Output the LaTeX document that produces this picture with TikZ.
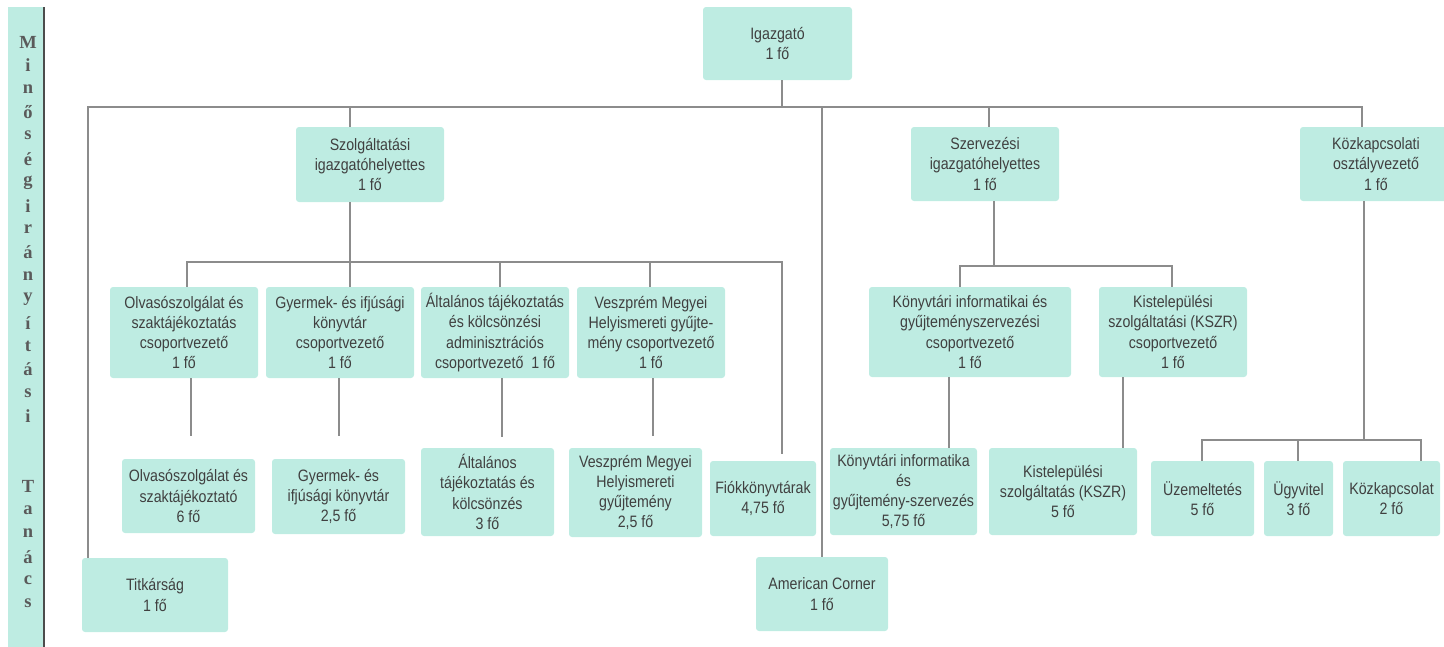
\documentclass[tikz,border=0pt]{standalone}
\usepackage{fontspec}
\newfontfamily\boxfont[FakeStretch=0.86]{Liberation Sans}
\newfontfamily\barfont{Liberation Serif}
\definecolor{boxc}{HTML}{BEECE2}
\definecolor{txtc}{HTML}{404040}
\definecolor{linec}{HTML}{8C8C8C}
\definecolor{barletc}{HTML}{5A5A5A}
\tikzset{
  box/.style={fill=boxc, rounded corners=3pt, inner sep=0pt, align=center,
    font=\boxfont\fontsize{16.5}{20.2}\selectfont, text=txtc},
  ln/.style={draw=linec, line width=1.8pt},
  barletter/.style={inner sep=0pt, font=\barfont\bfseries\fontsize{18.5}{18.5}\selectfont, text=barletc},
}
\begin{document}
\begin{tikzpicture}[x=1pt,y=-1pt]
\useasboundingbox (0,0) rectangle (1444,646);
% left bar
\fill[boxc] (8,7) rectangle (44,660);
\draw[draw=black!70, line width=1.2pt] (44,7) -- (44,660);
\foreach \ch [count=\i from 0] in {M,i,n,ő,s,é,g,i,r,á,n,y,í,t,á,s,i}
  \node[barletter] (la\i) at (28,{42+23.4*\i}) {\ch};
\foreach \ch [count=\i from 19] in {T,a,n,á,c,s}
  \node[barletter] (lb\i) at (28,{42+23.4*\i}) {\ch};
% boxes
\node[box, minimum width=149pt, minimum height=73pt] (igaz) at (777.5,43.5) {Igazgató\\1 fő};
\node[box, minimum width=148pt, minimum height=75pt] (szolg) at (370,164.5) {Szolgáltatási\\igazgatóhelyettes\\1 fő};
\node[box, minimum width=148pt, minimum height=74pt] (szerv) at (985,164) {Szervezési\\igazgatóhelyettes\\1 fő};
\node[box, minimum width=152pt, minimum height=74pt] (kozk) at (1376,164) {Közkapcsolati\\osztályvezető\\1 fő};
\node[box, minimum width=148pt, minimum height=91pt] (olv) at (184,332.5) {Olvasószolgálat és\\szaktájékoztatás\\csoportvezető\\1 fő};
\node[box, minimum width=148pt, minimum height=91pt] (gyer) at (340,332.5) {Gyermek- és ifjúsági\\könyvtár\\csoportvezető\\1 fő};
\node[box, minimum width=148pt, minimum height=91pt] (alt) at (495,332.5) {Általános tájékoztatás\\és kölcsönzési\\adminisztrációs\\csoportvezető~ 1 fő};
\node[box, minimum width=148pt, minimum height=91pt] (vesz) at (651,332.5) {Veszprém Megyei\\Helyismereti gyűjte-\\mény csoportvezető\\1 fő};
\node[box, minimum width=202pt, minimum height=90pt] (kinf) at (970,332) {Könyvtári informatikai és\\gyűjteményszervezési\\csoportvezető\\1 fő};
\node[box, minimum width=148pt, minimum height=90pt] (kist) at (1173,332) {Kistelepülési\\szolgáltatási (KSZR)\\csoportvezető\\1 fő};
\node[box, minimum width=133pt, minimum height=74pt] (olv2) at (188.5,496) {Olvasószolgálat és\\szaktájékoztató\\6 fő};
\node[box, minimum width=133pt, minimum height=75pt] (gyer2) at (338.5,496.5) {Gyermek- és\\ifjúsági könyvtár\\2,5 fő};
\node[box, minimum width=133pt, minimum height=88pt] (alt2) at (487.5,492) {Általános\\tájékoztatás és\\kölcsönzés\\3 fő};
\node[box, minimum width=133pt, minimum height=89pt] (vesz2) at (635.5,492.5) {Veszprém Megyei\\Helyismereti\\gyűjtemény\\2,5 fő};
\node[box, minimum width=106pt, minimum height=75pt] (fiok) at (763,498.5) {Fiókkönyvtárak\\4,75 fő};
\node[box, minimum width=147pt, minimum height=87pt] (kinf2) at (903.5,491.5) {Könyvtári informatika\\és\\gyűjtemény-szervezés\\5,75 fő};
\node[box, minimum width=148pt, minimum height=87pt] (kist2) at (1063,491.5) {Kistelepülési\\szolgáltatás (KSZR)\\5 fő};
\node[box, minimum width=103pt, minimum height=75pt] (uzem) at (1202.5,498.5) {Üzemeltetés\\5 fő};
\node[box, minimum width=69pt, minimum height=75pt] (ugyv) at (1298.5,498.5) {Ügyvitel\\3 fő};
\node[box, minimum width=97pt, minimum height=75pt] (kozk2) at (1391.5,498.5) {Közkapcsolat\\2 fő};
\node[box, minimum width=146pt, minimum height=74pt] (titk) at (155,595) {Titkárság\\1 fő};
\node[box, minimum width=132pt, minimum height=74pt] (amc) at (822,594) {American Corner\\1 fő};
% junction coordinates
\coordinate (jI) at (782,107);
\coordinate (m1) at (88,107);
\coordinate (m2) at (1362,107);
\coordinate (c1) at (350,107);
\coordinate (c2) at (822,107);
\coordinate (c3) at (989,107);
\coordinate (s0) at (350,262);
\coordinate (s1) at (187,262);
\coordinate (s2) at (782,262);
\coordinate (s3) at (500,262);
\coordinate (s4) at (650,262);
\coordinate (fe) at (782,454);
\coordinate (ga) at (191,436);
\coordinate (gb) at (339,436);
\coordinate (gc) at (502,437);
\coordinate (gd) at (653,436);
\coordinate (xe) at (949,400);
\coordinate (xf) at (1123,400);
\coordinate (z0) at (994,266);
\coordinate (z1) at (960,266);
\coordinate (z2) at (1172,266);
\coordinate (k0) at (1364,440);
\coordinate (k1) at (1202,440);
\coordinate (k2) at (1421,440);
\coordinate (k3) at (1298,440);
% connectors
\draw[ln] (igaz.south -| jI) -- (jI);
\draw[ln] (titk.north -| m1) -- (m1) -- (m2) -- (kozk.north -| m2);
\draw[ln] (c1) -- (szolg.north -| c1);
\draw[ln] (c2) -- (amc.north -| c2);
\draw[ln] (c3) -- (szerv.north -| c3);
\draw[ln] (szolg.south -| s0) -- (gyer.north -| s0);
\draw[ln] (olv.north -| s1) -- (s1) -- (s2) -- (fe);
\draw[ln] (s3) -- (alt.north -| s3);
\draw[ln] (s4) -- (vesz.north -| s4);
\draw[ln] (olv.south -| ga) -- (ga);
\draw[ln] (gyer.south -| gb) -- (gb);
\draw[ln] (alt.south -| gc) -- (gc);
\draw[ln] (vesz.south -| gd) -- (gd);
\draw[ln] (szerv.south -| z0) -- (z0);
\draw[ln] (kinf.north -| z1) -- (z1) -- (z2) -- (kist.north -| z2);
\draw[ln] (kinf.south -| xe) -- (kinf2.north -| xe);
\draw[ln] (kist.south -| xf) -- (kist2.north -| xf);
\draw[ln] (kozk.south -| k0) -- (k0);
\draw[ln] (uzem.north -| k1) -- (k1) -- (k2) -- (kozk2.north -| k2);
\draw[ln] (k3) -- (ugyv.north -| k3);
\end{tikzpicture}
\end{document}
